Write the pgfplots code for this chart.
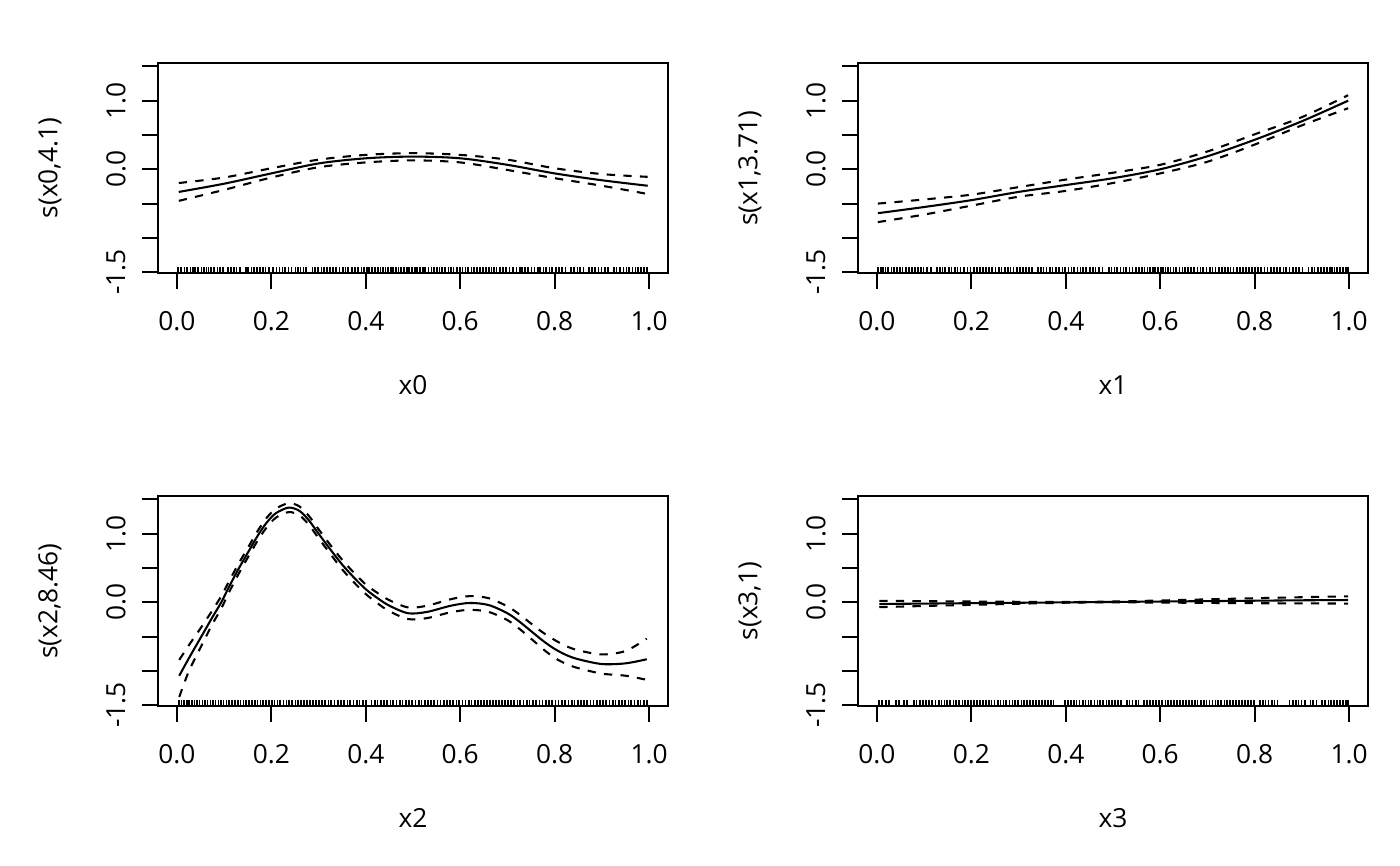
\documentclass[border=0pt]{standalone}
\usepackage{fontspec}
\setmainfont{Open Sans}
\usepackage{pgfplots}
\usepackage{pgfplotstable}
\pgfplotsset{compat=1.18}
\newlength\px \setlength\px{0.36135pt}
\pgfdeclareplotmark{rug}{\pgfpathmoveto{\pgfpointorigin}\pgfpathlineto{\pgfpoint{0pt}{6\px}}\pgfusepathqstroke}
\newcommand\lblfont{\fontsize{9.5}{11}\selectfont}
\pgfplotsset{gamp/.style={width=510\px, height=209.4\px, scale only axis,
  xmin=-0.04, xmax=1.04, ymin=-1.507, ymax=1.545,
  axis line style={line width=0.75pt},
  every tick/.style={line width=0.75pt, black},
  major tick length=16\px, tick align=outside,
  xtick pos=bottom, ytick pos=left,
  xtick={0,0.2,0.4,0.6,0.8,1}, xticklabels={0.0,0.2,0.4,0.6,0.8,1.0},
  ytick={-1.5,-1,-0.5,0,0.5,1,1.5}, yticklabels={-1.5,,,0.0,,1.0,},
  ticklabel style={font=\lblfont},
  xticklabel style={anchor=center, yshift=-32\px},
  yticklabel style={anchor=center, rotate=90, yshift=26\px},
  fitl/.style={line width=0.75pt, black, smooth},
  sel/.style={line width=0.75pt, black, smooth, dash pattern=on 3pt off 3pt},
  rugl/.style={only marks, mark=rug, black, mark options={line width=0.6pt}},
}}
\pgfplotstableread{
x fit up lo
0.004 -0.33 -0.20 -0.46
0.1 -0.21 -0.12 -0.30
0.2 -0.06 0.015 -0.12
0.3 0.085 0.14 0.03
0.4 0.16 0.21 0.10
0.5 0.185 0.235 0.13
0.6 0.16 0.21 0.10
0.7 0.065 0.14 -0.01
0.8 -0.06 0.015 -0.13
0.9 -0.16 -0.07 -0.24
0.997 -0.24 -0.11 -0.36
}\dA
\pgfplotstableread{
x fit up lo
0.002 -0.64 -0.50 -0.77
0.1 -0.55 -0.44 -0.66
0.2 -0.45 -0.37 -0.53
0.3 -0.33 -0.26 -0.40
0.4 -0.23 -0.15 -0.315
0.5 -0.13 -0.05 -0.20
0.6 0.0 0.065 -0.06
0.7 0.19 0.26 0.11
0.8 0.43 0.51 0.36
0.9 0.70 0.76 0.64
0.998 1.0 1.08 0.89
}\dB
\pgfplotstableread{
x fit up lo
0.005 -1.07 -0.84 -1.38
0.025 -0.82 -0.63 -1.01
0.05 -0.52 -0.38 -0.66
0.075 -0.22 -0.12 -0.32
0.094 0.0 0.09 -0.09
0.11 0.22 0.30 0.14
0.13 0.48 0.555 0.405
0.15 0.72 0.79 0.65
0.172 0.98 1.05 0.91
0.19 1.16 1.23 1.09
0.21 1.30 1.365 1.235
0.237 1.38 1.445 1.315
0.26 1.33 1.395 1.265
0.28 1.19 1.255 1.125
0.30 1.00 1.065 0.935
0.325 0.77 0.835 0.705
0.35 0.55 0.62 0.48
0.375 0.36 0.43 0.29
0.40 0.19 0.26 0.12
0.425 0.06 0.135 -0.015
0.45 -0.05 0.03 -0.13
0.49 -0.16 -0.075 -0.245
0.53 -0.14 -0.05 -0.23
0.58 -0.05 0.045 -0.145
0.62 -0.01 0.09 -0.11
0.66 -0.04 0.06 -0.14
0.70 -0.16 -0.06 -0.26
0.725 -0.28 -0.175 -0.385
0.75 -0.42 -0.31 -0.53
0.775 -0.56 -0.44 -0.68
0.80 -0.68 -0.55 -0.81
0.825 -0.77 -0.64 -0.90
0.85 -0.83 -0.70 -0.96
0.90 -0.90 -0.76 -1.04
0.95 -0.89 -0.71 -1.07
0.995 -0.83 -0.53 -1.13
}\dC
\pgfplotstableread{
x fit up lo
0.005 -0.025 0.021 -0.071
0.1 -0.019 0.016 -0.054
0.2 -0.013 0.011 -0.037
0.3 -0.007 0.007 -0.021
0.4 -0.001 0.004 -0.006
0.45 0.002 0.006 -0.002
0.5 0.005 0.011 -0.001
0.6 0.011 0.026 -0.004
0.7 0.017 0.043 -0.009
0.8 0.023 0.059 -0.013
0.9 0.029 0.074 -0.016
0.998 0.033 0.087 -0.019
}\dD
\begin{document}
\begin{tikzpicture}
\path[use as bounding box] (0,0) rectangle (1400\px,866\px);
% panel 1
\begin{axis}[gamp, at={(158\px,593.3\px)}, anchor=south west]
\addplot[rugl] table[row sep=\\, x index=0, y expr=-1.507] {x\\ 0.003\\ 0.009\\ 0.016\\ 0.021\\ 0.029\\ 0.034\\ 0.038\\ 0.045\\ 0.052\\ 0.057\\ 0.063\\ 0.067\\ 0.072\\ 0.079\\ 0.086\\ 0.091\\ 0.097\\ 0.108\\ 0.115\\ 0.121\\ 0.126\\ 0.134\\ 0.146\\ 0.151\\ 0.158\\ 0.163\\ 0.169\\ 0.176\\ 0.183\\ 0.188\\ 0.195\\ 0.204\\ 0.211\\ 0.217\\ 0.224\\ 0.229\\ 0.236\\ 0.243\\ 0.251\\ 0.257\\ 0.262\\ 0.268\\ 0.274\\ 0.287\\ 0.293\\ 0.299\\ 0.306\\ 0.311\\ 0.318\\ 0.324\\ 0.331\\ 0.337\\ 0.344\\ 0.352\\ 0.357\\ 0.363\\ 0.371\\ 0.377\\ 0.384\\ 0.391\\ 0.396\\ 0.402\\ 0.407\\ 0.413\\ 0.419\\ 0.426\\ 0.431\\ 0.436\\ 0.442\\ 0.447\\ 0.453\\ 0.458\\ 0.464\\ 0.469\\ 0.474\\ 0.481\\ 0.487\\ 0.492\\ 0.498\\ 0.504\\ 0.509\\ 0.515\\ 0.521\\ 0.526\\ 0.533\\ 0.539\\ 0.544\\ 0.551\\ 0.556\\ 0.562\\ 0.568\\ 0.575\\ 0.581\\ 0.586\\ 0.593\\ 0.599\\ 0.605\\ 0.611\\ 0.617\\ 0.624\\ 0.629\\ 0.636\\ 0.642\\ 0.648\\ 0.654\\ 0.661\\ 0.666\\ 0.672\\ 0.677\\ 0.684\\ 0.691\\ 0.697\\ 0.704\\ 0.712\\ 0.719\\ 0.726\\ 0.731\\ 0.737\\ 0.744\\ 0.751\\ 0.757\\ 0.764\\ 0.769\\ 0.776\\ 0.782\\ 0.789\\ 0.795\\ 0.803\\ 0.809\\ 0.816\\ 0.823\\ 0.834\\ 0.841\\ 0.848\\ 0.854\\ 0.861\\ 0.873\\ 0.879\\ 0.886\\ 0.893\\ 0.899\\ 0.906\\ 0.913\\ 0.925\\ 0.931\\ 0.938\\ 0.946\\ 0.952\\ 0.958\\ 0.965\\ 0.971\\ 0.977\\ 0.983\\ 0.989\\ 0.996\\};
\addplot[fitl] table[x=x,y=fit] {\dA};
\addplot[sel] table[x=x,y=up] {\dA};
\addplot[sel] table[x=x,y=lo] {\dA};
\end{axis}
% panel 2
\begin{axis}[gamp, at={(858\px,593.3\px)}, anchor=south west]
\addplot[rugl] table[row sep=\\, x index=0, y expr=-1.507] {x\\ 0.002\\ 0.008\\ 0.013\\ 0.018\\ 0.024\\ 0.031\\ 0.036\\ 0.043\\ 0.049\\ 0.054\\ 0.061\\ 0.068\\ 0.074\\ 0.081\\ 0.087\\ 0.093\\ 0.099\\ 0.106\\ 0.114\\ 0.127\\ 0.133\\ 0.139\\ 0.144\\ 0.152\\ 0.158\\ 0.165\\ 0.171\\ 0.177\\ 0.184\\ 0.192\\ 0.198\\ 0.205\\ 0.212\\ 0.219\\ 0.225\\ 0.231\\ 0.238\\ 0.244\\ 0.251\\ 0.258\\ 0.264\\ 0.271\\ 0.277\\ 0.283\\ 0.289\\ 0.296\\ 0.303\\ 0.309\\ 0.316\\ 0.322\\ 0.329\\ 0.341\\ 0.347\\ 0.353\\ 0.359\\ 0.366\\ 0.372\\ 0.379\\ 0.386\\ 0.393\\ 0.399\\ 0.406\\ 0.412\\ 0.418\\ 0.425\\ 0.431\\ 0.437\\ 0.443\\ 0.451\\ 0.457\\ 0.463\\ 0.471\\ 0.478\\ 0.491\\ 0.497\\ 0.503\\ 0.509\\ 0.516\\ 0.522\\ 0.528\\ 0.535\\ 0.541\\ 0.548\\ 0.555\\ 0.561\\ 0.567\\ 0.573\\ 0.579\\ 0.584\\ 0.589\\ 0.595\\ 0.601\\ 0.606\\ 0.611\\ 0.616\\ 0.622\\ 0.628\\ 0.634\\ 0.641\\ 0.647\\ 0.653\\ 0.659\\ 0.665\\ 0.672\\ 0.679\\ 0.685\\ 0.691\\ 0.698\\ 0.705\\ 0.711\\ 0.717\\ 0.724\\ 0.731\\ 0.737\\ 0.743\\ 0.749\\ 0.755\\ 0.762\\ 0.769\\ 0.775\\ 0.782\\ 0.788\\ 0.794\\ 0.801\\ 0.807\\ 0.814\\ 0.821\\ 0.827\\ 0.834\\ 0.841\\ 0.847\\ 0.854\\ 0.861\\ 0.867\\ 0.874\\ 0.881\\ 0.888\\ 0.894\\ 0.901\\ 0.914\\ 0.921\\ 0.927\\ 0.934\\ 0.941\\ 0.947\\ 0.953\\ 0.959\\ 0.964\\ 0.969\\ 0.975\\ 0.981\\ 0.987\\ 0.993\\ 0.998\\};
\addplot[fitl] table[x=x,y=fit] {\dB};
\addplot[sel] table[x=x,y=up] {\dB};
\addplot[sel] table[x=x,y=lo] {\dB};
\end{axis}
% panel 3
\begin{axis}[gamp, at={(158\px,160.3\px)}, anchor=south west]
\addplot[rugl] table[row sep=\\, x index=0, y expr=-1.507] {x\\ 0.004\\ 0.010\\ 0.015\\ 0.021\\ 0.026\\ 0.032\\ 0.037\\ 0.043\\ 0.048\\ 0.054\\ 0.059\\ 0.065\\ 0.071\\ 0.076\\ 0.082\\ 0.088\\ 0.094\\ 0.099\\ 0.105\\ 0.111\\ 0.117\\ 0.123\\ 0.129\\ 0.135\\ 0.141\\ 0.147\\ 0.153\\ 0.159\\ 0.165\\ 0.171\\ 0.177\\ 0.183\\ 0.189\\ 0.195\\ 0.201\\ 0.207\\ 0.213\\ 0.219\\ 0.226\\ 0.232\\ 0.238\\ 0.244\\ 0.251\\ 0.257\\ 0.263\\ 0.269\\ 0.276\\ 0.282\\ 0.288\\ 0.295\\ 0.301\\ 0.307\\ 0.314\\ 0.321\\ 0.327\\ 0.334\\ 0.341\\ 0.347\\ 0.354\\ 0.361\\ 0.367\\ 0.374\\ 0.381\\ 0.387\\ 0.394\\ 0.401\\ 0.412\\ 0.419\\ 0.425\\ 0.432\\ 0.438\\ 0.445\\ 0.452\\ 0.458\\ 0.465\\ 0.472\\ 0.478\\ 0.485\\ 0.492\\ 0.498\\ 0.505\\ 0.512\\ 0.518\\ 0.525\\ 0.532\\ 0.538\\ 0.545\\ 0.552\\ 0.558\\ 0.565\\ 0.572\\ 0.578\\ 0.585\\ 0.592\\ 0.598\\ 0.605\\ 0.611\\ 0.618\\ 0.624\\ 0.631\\ 0.638\\ 0.644\\ 0.651\\ 0.657\\ 0.663\\ 0.669\\ 0.676\\ 0.682\\ 0.688\\ 0.695\\ 0.701\\ 0.708\\ 0.714\\ 0.721\\ 0.727\\ 0.734\\ 0.741\\ 0.747\\ 0.754\\ 0.761\\ 0.768\\ 0.774\\ 0.781\\ 0.788\\ 0.795\\ 0.802\\ 0.808\\ 0.815\\ 0.822\\ 0.829\\ 0.836\\ 0.842\\ 0.849\\ 0.856\\ 0.862\\ 0.869\\ 0.876\\ 0.882\\ 0.889\\ 0.896\\ 0.903\\ 0.909\\ 0.916\\ 0.923\\ 0.929\\ 0.936\\ 0.943\\ 0.949\\ 0.956\\ 0.962\\ 0.969\\ 0.976\\ 0.982\\ 0.989\\ 0.995\\};
\addplot[fitl] table[x=x,y=fit] {\dC};
\addplot[sel] table[x=x,y=up] {\dC};
\addplot[sel] table[x=x,y=lo] {\dC};
\end{axis}
% panel 4
\begin{axis}[gamp, at={(858\px,160.3\px)}, anchor=south west]
\addplot[rugl] table[row sep=\\, x index=0, y expr=-1.507] {x\\ 0.005\\ 0.011\\ 0.019\\ 0.026\\ 0.041\\ 0.047\\ 0.058\\ 0.064\\ 0.078\\ 0.084\\ 0.091\\ 0.097\\ 0.104\\ 0.111\\ 0.117\\ 0.124\\ 0.131\\ 0.137\\ 0.143\\ 0.149\\ 0.155\\ 0.162\\ 0.168\\ 0.174\\ 0.181\\ 0.187\\ 0.193\\ 0.199\\ 0.206\\ 0.212\\ 0.218\\ 0.225\\ 0.231\\ 0.237\\ 0.243\\ 0.249\\ 0.256\\ 0.262\\ 0.268\\ 0.274\\ 0.281\\ 0.287\\ 0.293\\ 0.299\\ 0.306\\ 0.312\\ 0.318\\ 0.324\\ 0.331\\ 0.337\\ 0.343\\ 0.349\\ 0.356\\ 0.362\\ 0.368\\ 0.374\\ 0.398\\ 0.404\\ 0.411\\ 0.417\\ 0.423\\ 0.429\\ 0.436\\ 0.442\\ 0.448\\ 0.454\\ 0.461\\ 0.467\\ 0.473\\ 0.479\\ 0.486\\ 0.492\\ 0.498\\ 0.504\\ 0.511\\ 0.517\\ 0.529\\ 0.535\\ 0.541\\ 0.548\\ 0.554\\ 0.566\\ 0.572\\ 0.579\\ 0.585\\ 0.591\\ 0.598\\ 0.604\\ 0.611\\ 0.617\\ 0.623\\ 0.629\\ 0.636\\ 0.642\\ 0.648\\ 0.654\\ 0.661\\ 0.667\\ 0.673\\ 0.679\\ 0.686\\ 0.692\\ 0.698\\ 0.704\\ 0.711\\ 0.717\\ 0.723\\ 0.729\\ 0.736\\ 0.742\\ 0.748\\ 0.754\\ 0.761\\ 0.767\\ 0.773\\ 0.779\\ 0.786\\ 0.792\\ 0.798\\ 0.811\\ 0.817\\ 0.823\\ 0.829\\ 0.836\\ 0.842\\ 0.848\\ 0.874\\ 0.881\\ 0.887\\ 0.893\\ 0.899\\ 0.906\\ 0.918\\ 0.924\\ 0.931\\ 0.943\\ 0.949\\ 0.956\\ 0.962\\ 0.968\\ 0.974\\ 0.981\\ 0.987\\ 0.993\\ 0.998\\};
\addplot[fitl] table[x=x,y=fit] {\dD};
\addplot[sel] table[x=x,y=up] {\dD};
\addplot[sel] table[x=x,y=lo] {\dD};
\end{axis}
% axis labels
\node[font=\lblfont] at (413\px,481\px) {x0};
\node[font=\lblfont] at (1113\px,481\px) {x1};
\node[font=\lblfont] at (413\px,48\px) {x2};
\node[font=\lblfont] at (1113\px,48\px) {x3};
\node[font=\lblfont, rotate=90] at (50\px,698\px) {s(x0,4.1)};
\node[font=\lblfont, rotate=90] at (750\px,698\px) {s(x1,3.71)};
\node[font=\lblfont, rotate=90] at (50\px,265\px) {s(x2,8.46)};
\node[font=\lblfont, rotate=90] at (750\px,265\px) {s(x3,1)};
\end{tikzpicture}
\end{document}
